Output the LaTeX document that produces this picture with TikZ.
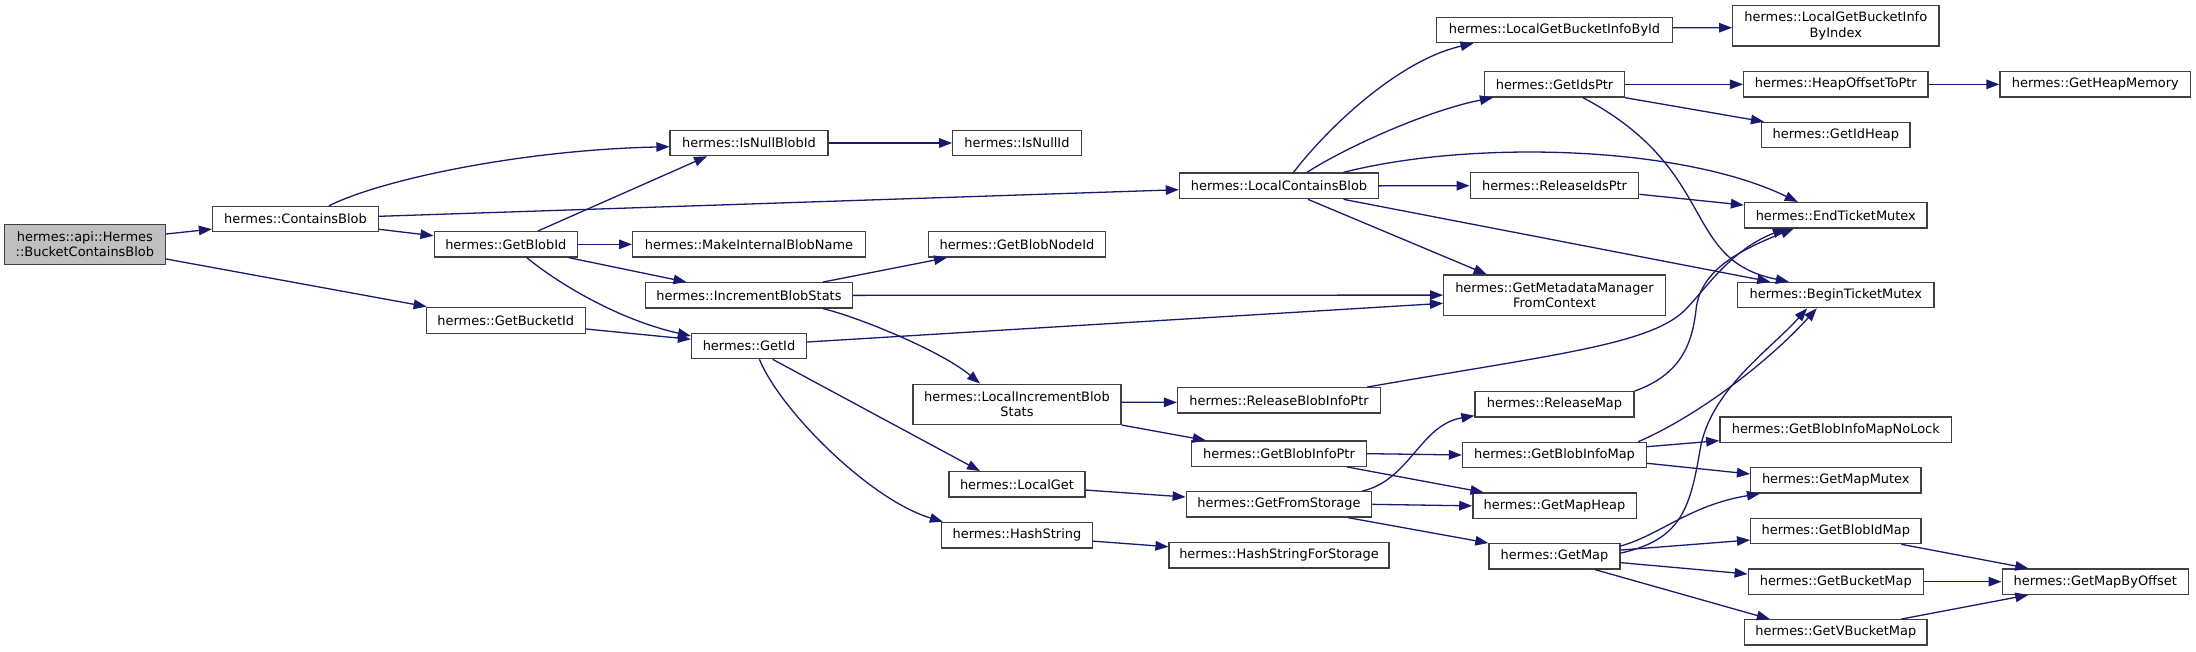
\documentclass[tikz,border=0pt]{standalone}
\usepackage{fontspec}
\setmainfont{DejaVu Sans}
\usetikzlibrary{arrows.meta}
\definecolor{edgecol}{HTML}{191970}
\definecolor{rootfill}{HTML}{BFBFBF}
\definecolor{boxline}{HTML}{404040}
\tikzset{
  box/.style={draw=boxline, fill=white, line width=1.3pt, inner sep=0pt,
    minimum height=25.3pt, align=center, font=\fontsize{12.95pt}{15.3pt}\selectfont},
  dbl/.style={minimum height=40.2pt},
  edge/.style={draw=edgecol, line width=1.3pt, -{Triangle[length=13pt,width=9.5pt]}}
}
\begin{document}
\begin{tikzpicture}[x=1pt,y=-1pt]
\useasboundingbox (0,0) rectangle (2196,651);
% column 1
\node[box, dbl, fill=rootfill, minimum width=161.2pt] (main) at (84.9,244.5) {hermes::api::Hermes\\::BucketContainsBlob};
% column 2
\node[box, minimum width=166pt] (CB) at (295.5,219.1) {hermes::ContainsBlob};
% column 3
\node[box, minimum width=143.3pt] (GBI) at (505.8,244.35) {hermes::GetBlobId};
\node[box, minimum width=159pt, minimum height=26pt] (GBkt) at (505.8,320.3) {hermes::GetBucketId};
% column 4
\node[box, minimum width=157.9pt] (INBI) at (749,143) {hermes::IsNullBlobId};
\node[box, minimum width=232.7pt] (MIBN) at (749,244.35) {hermes::MakeInternalBlobName};
\node[box, minimum width=207.1pt] (IBS) at (749,295.35) {hermes::IncrementBlobStats};
\node[box, minimum width=115pt] (GetId) at (749,346) {hermes::GetId};
% column 5
\node[box, minimum width=128.4pt] (INI) at (1017,143) {hermes::IsNullId};
\node[box, minimum width=177.5pt] (GBN) at (1017,244.35) {hermes::GetBlobNodeId};
\node[box, dbl, minimum width=208.1pt] (LIBS) at (1017,404.3) {hermes::LocalIncrementBlob\\Stats};
\node[box, minimum width=135.9pt] (LG) at (1017,484.35) {hermes::LocalGet};
\node[box, minimum width=151pt, minimum height=25.7pt] (HS) at (1017,535.15) {hermes::HashString};
% column 6
\node[box, minimum width=199.1pt, minimum height=25.7pt] (LCB) at (1279,185.85) {hermes::LocalContainsBlob};
\node[box, minimum width=202.9pt] (RBIP) at (1279,400.35) {hermes::ReleaseBlobInfoPtr};
\node[box, minimum width=175.1pt] (GBIP) at (1279,453.65) {hermes::GetBlobInfoPtr};
\node[box, minimum width=185.5pt] (GFS) at (1279,504.35) {hermes::GetFromStorage};
\node[box, minimum width=219.9pt] (HSFS) at (1279,555.35) {hermes::HashStringForStorage};
% column 7
\node[box, minimum width=235.7pt] (LGBIBI) at (1554.5,30) {hermes::LocalGetBucketInfoById};
\node[box, minimum width=139.4pt] (GIP) at (1554.5,84.35) {hermes::GetIdsPtr};
\node[box, minimum width=168.5pt, minimum height=26pt] (RIP) at (1554.5,185.7) {hermes::ReleaseIdsPtr};
\node[box, dbl, minimum width=221.7pt] (GMMFC) at (1554.5,295.1) {hermes::GetMetadataManager\\FromContext};
\node[box, minimum width=158.9pt] (RM) at (1554.5,404.35) {hermes::ReleaseMap};
\node[box, minimum width=184.1pt] (GBIM) at (1554.5,455) {hermes::GetBlobInfoMap};
\node[box, minimum width=163.3pt, minimum height=25.7pt] (GMH) at (1554.5,505.85) {hermes::GetMapHeap};
\node[box, minimum width=131pt] (GetMap) at (1554.5,556.35) {hermes::GetMap};
% column 8
\node[box, dbl, minimum width=206.1pt] (LGBIndex) at (1835.8,25.85) {hermes::LocalGetBucketInfo\\ByIndex};
\node[box, minimum width=184.4pt] (HOTP) at (1835.8,84.35) {hermes::HeapOffsetToPtr};
\node[box, minimum width=148.4pt] (GIH) at (1835.8,135) {hermes::GetIdHeap};
\node[box, minimum width=182.6pt] (ETM) at (1835.8,215.25) {hermes::EndTicketMutex};
\node[box, minimum width=196.2pt] (BTM) at (1835.8,295) {hermes::BeginTicketMutex};
\node[box, minimum width=231.9pt] (GBIMNL) at (1835.8,429.65) {hermes::GetBlobInfoMapNoLock};
\node[box, minimum width=170.4pt] (GMMutex) at (1835.8,480.35) {hermes::GetMapMutex};
\node[box, minimum width=170.4pt] (GBIdMap) at (1835.8,531) {hermes::GetBlobIdMap};
\node[box, minimum width=175.1pt] (GBM) at (1835.8,581.65) {hermes::GetBucketMap};
\node[box, minimum width=182.6pt] (GVBM) at (1835.8,632.35) {hermes::GetVBucketMap};
% column 9
\node[box, minimum width=190.6pt] (GHM) at (2095.3,84.35) {hermes::GetHeapMemory};
\node[box, minimum width=186.3pt] (GMBO) at (2095.3,581.65) {hermes::GetMapByOffset};

% edges
\draw[edge] ([yshift=10.5pt]main.east) -- ([yshift=-10pt]CB.west);
\draw[edge] ([yshift=-14.5pt]main.east) -- ([xshift=1pt]GBkt.north west);
\draw[edge] ([xshift=33.5pt]CB.north) .. controls (380,180) and (520,150) .. ([yshift=-3.7pt]INBI.west);
\draw[edge] ([yshift=2.8pt]CB.east) -- ([yshift=-3.85pt]LCB.west);
\draw[edge] ([yshift=-10.2pt]CB.east) -- ([yshift=8.6pt]GBI.west);
\draw[edge] ([xshift=32pt]GBI.north) -- ([xshift=-42pt]INBI.south);
\draw[edge] (GBI.east) -- (MIBN.west);
\draw[edge] ([xshift=63pt]GBI.south) -- ([xshift=-62.5pt]IBS.north);
\draw[edge] ([xshift=21pt]GBI.south) .. controls (560,285) and (620,320) .. ([yshift=10pt]GetId.west);
\draw[edge] ([yshift=-8.7pt]GBkt.east) -- ([yshift=6.7pt]GetId.west);
\draw[edge] (INBI.east) -- (INI.west);
\draw[edge] ([xshift=74pt]IBS.north) -- ([xshift=-70pt]GBN.south);
\draw[edge] (IBS.east) -- (GMMFC.west);
\draw[edge] ([xshift=74pt]IBS.south) .. controls (855,316) and (940,350) .. ([xshift=-37pt]LIBS.north);
\draw[edge] ([yshift=4pt]GetId.east) -- ([yshift=-8.2pt]GMMFC.west);
\draw[edge] ([xshift=23.6pt]GetId.south) -- ([xshift=-37pt]LG.north);
\draw[edge] ([xshift=10.4pt]GetId.south) .. controls (780,410) and (870,500) .. ([xshift=2pt]HS.north west);
\draw[edge] ([xshift=14.5pt]LCB.north) .. controls (1330,125) and (1400,60) .. ([xshift=-81pt]LGBIBI.south);
\draw[edge] ([xshift=27.85pt]LCB.north) .. controls (1350,145) and (1430,110) .. ([xshift=-61.6pt]GIP.south);
\draw[edge] ([xshift=64.5pt]LCB.north) .. controls (1470,140) and (1680,145) .. ([xshift=-38pt]ETM.north);
\draw[edge] (LCB.east) -- (RIP.west);
\draw[edge] ([xshift=64.6pt]LCB.south) -- ([xshift=-65.6pt]BTM.north);
\draw[edge] ([xshift=29pt]LCB.south) -- ([xshift=-67.8pt]GMMFC.north);
\draw[edge] ([yshift=2.3pt]LGBIBI.east) -- ([yshift=-1.85pt]LGBIndex.west);
\draw[edge] (GIP.east) -- (HOTP.west);
\draw[edge] (GIP.south east) -- ([xshift=3pt]GIH.north west);
\draw[edge] ([xshift=28.4pt]GIP.south) .. controls (1720,170) and (1680,260) .. ([xshift=-47pt]BTM.north);
\draw[edge] (HOTP.east) -- (GHM.west);
\draw[edge] ([yshift=-8.6pt]RIP.east) -- ([yshift=10.2pt]ETM.west);
\draw[edge] ([yshift=2pt]LIBS.east) -- ([yshift=-2pt]RBIP.west);
\draw[edge] (LIBS.south east) -- ([xshift=15pt]GBIP.north west);
\draw[edge] ([xshift=88.2pt]RBIP.north) .. controls (1550,355) and (1650,345) .. (1685,310)
   .. controls (1705,290) and (1730,250) .. ([xshift=-50pt]ETM.south);
\draw[edge] (RM.north east) .. controls (1680,375) and (1692,345) .. (1696,310)
   .. controls (1700,270) and (1740,250) .. ([xshift=-42pt]ETM.south);
\draw[edge] (GBIP.east) -- (GBIM.west);
\draw[edge] ([xshift=68pt]GBIP.south) -- ([xshift=-71pt]GMH.north);
\draw[edge] ([yshift=-5.7pt]LG.east) -- ([yshift=7.35pt]GFS.west);
\draw[edge] ([yshift=-6pt]HS.east) -- ([yshift=8.6pt]HSFS.west);
\draw[edge] ([xshift=83.4pt]GFS.north) .. controls (1410,480) and (1420,425) .. ([yshift=2pt]RM.south west);
\draw[edge] (GFS.east) -- (GMH.west);
\draw[edge] ([xshift=69pt]GFS.south) -- (GetMap.north west);
\draw[edge] ([xshift=83.7pt]GBIM.north) .. controls (1700,415) and (1770,360) .. ([xshift=-19pt]BTM.south);
\draw[edge] ([yshift=8.3pt]GBIM.east) -- ([yshift=-11pt]GBIMNL.west);
\draw[edge] ([yshift=-8.3pt]GBIM.east) -- ([yshift=6.35pt]GMMutex.west);
\draw[edge] ([yshift=3.3pt]GetMap.east) .. controls (1680,540) and (1690,510) .. (1700,450)
   .. controls (1710,390) and (1770,350) .. ([xshift=-28.6pt]BTM.south);
\draw[edge] ([yshift=10.35pt]GetMap.east) .. controls (1660,535) and (1690,505) .. ([xshift=10pt]GMMutex.south west);
\draw[edge] ([yshift=6.3pt]GetMap.east) -- ([yshift=-9pt]GBIdMap.west);
\draw[edge] ([yshift=-6.3pt]GetMap.east) -- ([yshift=7.65pt]GBM.west);
\draw[edge] ([xshift=40.6pt]GetMap.south) -- ([xshift=-66pt]GVBM.north);
\draw[edge] ([xshift=65.5pt]GBIdMap.south) -- ([xshift=-67pt]GMBO.north);
\draw[edge] (GBM.east) -- (GMBO.west);
\draw[edge] ([xshift=65.5pt]GVBM.north) -- ([xshift=-67pt]GMBO.south);
\end{tikzpicture}
\end{document}
